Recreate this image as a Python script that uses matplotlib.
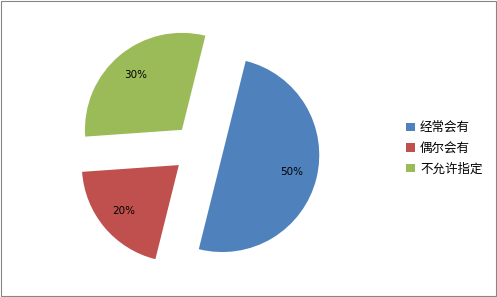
import matplotlib.pyplot as plt
from matplotlib.patches import Rectangle

labels = ["经常会有", "偶尔会有", "不允许指定"]
values = [50, 20, 30]
colors = ["#4F81BD", "#C0504D", "#9BBB59"]

plt.rcParams['font.family'] = ['Noto Sans CJK SC', 'DejaVu Sans']

fig = plt.figure(figsize=(4.97, 2.97), dpi=100)
ax = fig.add_axes([0, 0, 1, 1])

# pixel-like data space, pie centre and radius
# (explode is in data units here, not a fraction of the radius)
wedges, texts, autotexts = ax.pie(
    values, colors=colors, startangle=76, counterclock=False,
    explode=[25, 25, 25], center=(198, 148), radius=97,
    autopct='%d%%', pctdistance=0.74,
    textprops={'fontsize': 7.5, 'family': ['DejaVu Sans']},
    wedgeprops={'linewidth': 0})

ax.set_xlim(0, 497)
ax.set_ylim(0, 297)
ax.set_aspect('equal')
ax.axis('off')

leg = ax.legend(wedges, labels, loc='upper left', bbox_to_anchor=(400 / 497, 1 - 115 / 297),
                frameon=False, fontsize=9, handlelength=0.7, handleheight=0.7,
                handletextpad=0.4, labelspacing=0.6, borderpad=0)

fig.patches.append(Rectangle((0.002, 0.003), 0.995, 0.994, transform=fig.transFigure,
                             fill=False, edgecolor='#868686', linewidth=0.8))

fig.savefig("out.png", dpi=100)
